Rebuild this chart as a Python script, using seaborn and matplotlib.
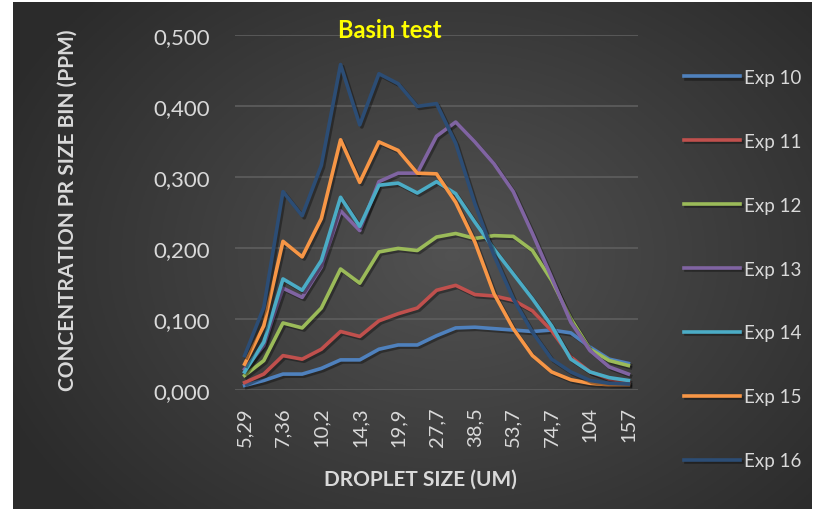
import numpy as np
import pandas as pd
import seaborn as sns
import matplotlib.pyplot as plt
import matplotlib.patheffects as pe

# droplet size bins (um); only every second one is labelled on the axis
sizes = ["5,29", "6,24", "7,36", "8,68", "10,2", "12,1", "14,3", "16,9", "19,9", "23,5",
         "27,7", "32,7", "38,5", "45,5", "53,7", "63,4", "74,7", "88,2", "104", "123", "157"]

exp10 = [0.006, 0.013, 0.022, 0.022, 0.030, 0.042, 0.042, 0.057, 0.063, 0.063, 0.076,
         0.087, 0.088, 0.086, 0.084, 0.082, 0.084, 0.080, 0.060, 0.043, 0.037]
exp11 = [0.010, 0.022, 0.048, 0.043, 0.057, 0.082, 0.075, 0.097, 0.107, 0.115, 0.140,
         0.147, 0.134, 0.132, 0.126, 0.111, 0.083, 0.046, 0.025, 0.015, 0.010]
exp12 = [0.020, 0.041, 0.094, 0.087, 0.115, 0.170, 0.150, 0.194, 0.199, 0.196, 0.215,
         0.220, 0.213, 0.217, 0.216, 0.196, 0.154, 0.100, 0.057, 0.041, 0.034]
exp13 = [0.029, 0.062, 0.143, 0.130, 0.173, 0.252, 0.224, 0.293, 0.305, 0.305, 0.357,
         0.377, 0.349, 0.318, 0.279, 0.220, 0.158, 0.095, 0.055, 0.032, 0.022]
exp14 = [0.025, 0.067, 0.156, 0.140, 0.182, 0.271, 0.230, 0.288, 0.291, 0.277, 0.293,
         0.276, 0.236, 0.198, 0.163, 0.128, 0.090, 0.043, 0.025, 0.017, 0.013]
exp15 = [0.036, 0.090, 0.209, 0.187, 0.241, 0.352, 0.292, 0.349, 0.337, 0.305, 0.304,
         0.264, 0.208, 0.135, 0.086, 0.048, 0.025, 0.014, 0.009, 0.007, 0.007]
exp16 = [0.048, 0.116, 0.279, 0.245, 0.316, 0.458, 0.373, 0.445, 0.431, 0.399, 0.403,
         0.347, 0.262, 0.189, 0.128, 0.081, 0.043, 0.025, 0.013, 0.009, 0.008]

exp_names = ["Exp 10", "Exp 11", "Exp 12", "Exp 13", "Exp 14", "Exp 15", "Exp 16"]
colors = ["#4F81BD", "#C0504D", "#9BBB59", "#8064A2", "#4BACC6", "#F79646", "#2C4D75"]

series = [exp10, exp11, exp12, exp13, exp14, exp15, exp16]
df = pd.DataFrame({name: vals for name, vals in zip(exp_names, series)})
df["pos"] = range(len(sizes))
df = df.melt(id_vars="pos", var_name="exp", value_name="conc")

plt.rcParams["font.family"] = ["Lato", "DejaVu Sans"]
text_col = "#D9D9D9"

fig = plt.figure(figsize=(8.4, 5.1), dpi=100, facecolor="white")

# dark radial gradient behind the whole chart
bg = fig.add_axes([13 / 840, 0, (812 - 13) / 840, 507 / 510], zorder=-5)
gx, gy = np.meshgrid(np.linspace(0, 1, 400), np.linspace(0, 1, 260))
r = np.sqrt(((gx - 0.55) / 0.62) ** 2 + ((gy - 0.5) / 0.75) ** 2)
r = np.clip(r, 0, 1)
shade = 0.32 - 0.15 * r
bg.imshow(np.dstack([shade] * 3), aspect="auto", extent=[0, 1, 0, 1])
bg.set_axis_off()

ax = fig.add_axes([235 / 840, 1 - 390.7 / 510, (638 - 235) / 840, (390.7 - 35.7) / 510])
ax.set_facecolor("none")

sns.lineplot(data=df, x="pos", y="conc", hue="exp", palette=colors, linewidth=2.6, ax=ax)

for line in ax.get_lines():
    line.set_path_effects([pe.SimpleLineShadow(offset=(1.5, -1.5), shadow_color="black", alpha=0.35),
                           pe.Normal()])

ax.set_xlim(-0.5, len(sizes) - 0.5)
ax.set_ylim(0, 0.5)
ax.set_yticks([0, 0.1, 0.2, 0.3, 0.4, 0.5])
ax.set_yticklabels(["0,000", "0,100", "0,200", "0,300", "0,400", "0,500"])
ax.set_xticks(range(0, len(sizes), 2))
ax.set_xticklabels(sizes[::2], rotation=90)
ax.tick_params(axis="y", length=0, pad=18, labelsize=16, labelcolor=text_col)
ax.tick_params(axis="x", length=0, pad=12, labelsize=14.5, labelcolor=text_col)
ax.grid(axis="y", color="#5E5E5E", linewidth=1.2)
ax.grid(axis="x", visible=False)
ax.set_axisbelow(True)
for s in ax.spines.values():
    s.set_visible(False)
ax.set_xlabel("")
ax.set_ylabel("")

fig.text(420 / 840, 1 - 480 / 510, "DROPLET SIZE (UM)", ha="center", va="center",
         fontsize=15, fontweight="bold", color=text_col)
fig.text(68 / 840, 1 - 210 / 510, "CONCENTRATION PR SIZE BIN (PPM)", rotation=90,
         ha="center", va="center", fontsize=15, fontweight="bold", color=text_col)
fig.text(390 / 840, 1 - 31 / 510, "Basin test", ha="center", va="center",
         fontsize=17, fontweight="bold", color="#FFFF00")

handles, labels = ax.get_legend_handles_labels()
ax.get_legend().remove()
leg = fig.legend(handles, labels, loc="upper left", bbox_to_anchor=(684 / 840, 1 - 70 / 510),
                 frameon=False, fontsize=13.5, labelcolor=text_col, handlelength=3.0,
                 handletextpad=0.2, labelspacing=2.5, borderpad=0, borderaxespad=0)
for h in leg.get_lines():
    h.set_linewidth(2.6)

fig.savefig("out.png", dpi=100, facecolor="white")
